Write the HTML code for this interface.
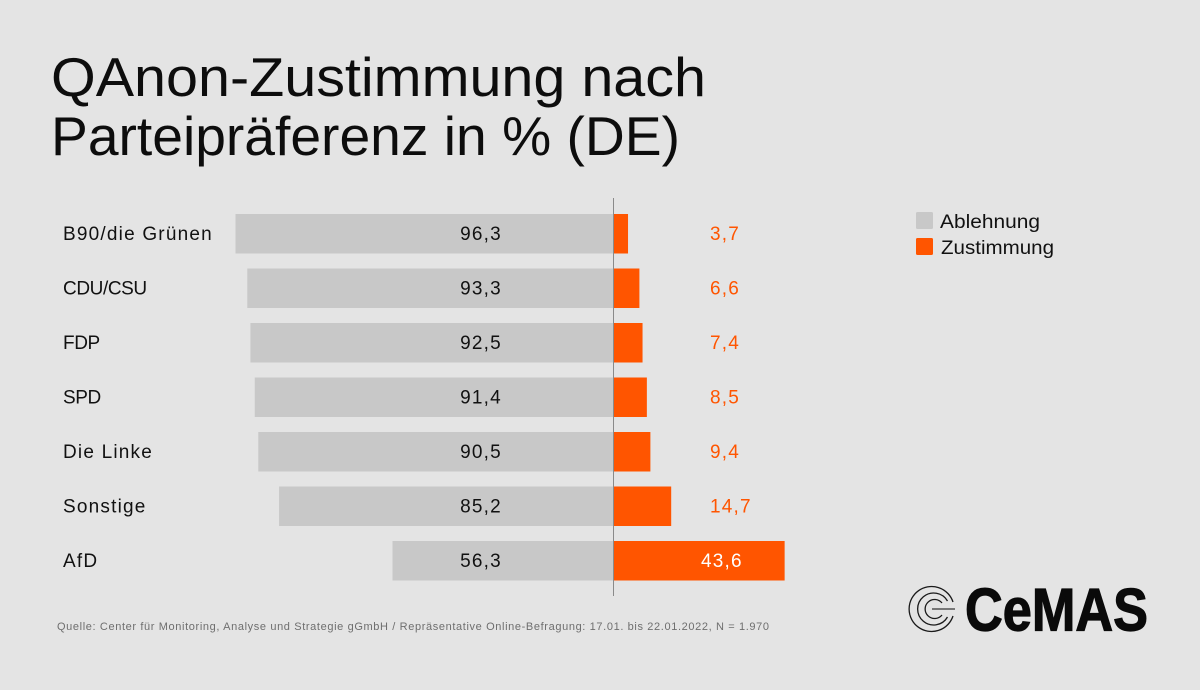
<!DOCTYPE html>
<html lang="de">
<head>
<meta charset="utf-8">
<title>QAnon-Zustimmung nach Parteipräferenz</title>
<style>
html,body{margin:0;padding:0;background:#e4e4e4;width:1200px;height:690px;overflow:hidden}
svg{display:block}
text{font-family:"Liberation Sans",sans-serif}
</style>
</head>
<body>
<svg id="chart" width="1200" height="690" viewBox="0 0 1200 690" xmlns="http://www.w3.org/2000/svg">
  <rect width="1200" height="690" fill="#e4e4e4"/>
  <g>
    <text x="51" y="96" font-size="55" fill="#0d0d0d" textLength="655" lengthAdjust="spacingAndGlyphs">QAnon-Zustimmung nach</text>
    <text x="51" y="155" font-size="55" fill="#0d0d0d" textLength="629" lengthAdjust="spacingAndGlyphs">Parteipräferenz in % (DE)</text>
  </g>
  <g id="bars"></g>
  <line id="axis" y1="198" y2="596" stroke="#8a8a8a" stroke-width="1"/>
  <g>
    <g>
      <rect x="916" y="212" width="17" height="17" rx="1.5" fill="#c8c8c8"/>
      <text x="940" y="228" font-size="19" fill="#111" textLength="100" lengthAdjust="spacingAndGlyphs">Ablehnung</text>
    </g>
    <g>
      <rect x="916" y="238" width="17" height="17" rx="1.5" fill="#ff5500"/>
      <text x="941" y="254" font-size="19" fill="#111" textLength="113" lengthAdjust="spacingAndGlyphs">Zustimmung</text>
    </g>
  </g>
  <text x="57" y="630" font-size="11" fill="#6e6e6e" textLength="712" lengthAdjust="spacing">Quelle: Center für Monitoring, Analyse und Strategie gGmbH / Repräsentative Online-Befragung: 17.01. bis 22.01.2022, N = 1.970</text>
  <g>
    <g fill="none" stroke="#1a1a1a" stroke-width="1.3">
      <path d="M953 602 A22.5 22.5 0 1 0 953 616"/>
      <path d="M947.5 601 A16 16 0 1 0 947.5 617"/>
      <path d="M942 603 A9.5 9.5 0 1 0 942 615"/>
      <path d="M932 609 H955" stroke="#777" stroke-width="2"/>
    </g>
    <text x="965" y="630.5" font-size="60" font-weight="700" fill="#0a0a0a" stroke="#0a0a0a" stroke-width="1.2" textLength="183" lengthAdjust="spacingAndGlyphs">CeMAS</text>
  </g>
</svg>
<script>
const parties = ["B90/die Grünen", "CDU/CSU", "FDP", "SPD", "Die Linke", "Sonstige", "AfD"];
const ablehnung = [96.3, 93.3, 92.5, 91.4, 90.5, 85.2, 56.3];
const zustimmung = [3.7, 6.6, 7.4, 8.5, 9.4, 14.7, 43.6];

const SVG_NS = "http://www.w3.org/2000/svg";
const ZERO_X = 613.5;
const PX_PER_UNIT = 3.925;
const ROW_TOP = 214;
const ROW_STEP = 54.5;
const BAR_H = 39.5;
const xScale = function (v) { return ZERO_X + v * PX_PER_UNIT; };
const yScale = function (i) { return ROW_TOP + i * ROW_STEP; };
const fmt = function (v) { return v.toFixed(1).replace(".", ","); };
const barsGroup = document.getElementById("bars");

function addRect(parent, x, y, w, h, fill) {
  const r = document.createElementNS(SVG_NS, "rect");
  r.setAttribute("x", x);
  r.setAttribute("y", y);
  r.setAttribute("width", w);
  r.setAttribute("height", h);
  r.setAttribute("fill", fill);
  parent.appendChild(r);
  return r;
}
function addText(parent, x, y, str, fill, anchor) {
  const t = document.createElementNS(SVG_NS, "text");
  t.setAttribute("x", x);
  t.setAttribute("y", y);
  t.setAttribute("font-size", "19");
  t.setAttribute("letter-spacing", "1.2");
  t.setAttribute("fill", fill);
  t.setAttribute("text-anchor", anchor);
  t.textContent = str;
  parent.appendChild(t);
  return t;
}

parties.forEach(function (party, i) {
  const y = yScale(i);
  const textY = y + 26;

  const row = document.createElementNS(SVG_NS, "g");
  
  
  barsGroup.appendChild(row);

  const label = addText(row, 63, textY, party, "#111", "start");
  
  
  if (party === party.toUpperCase()) {
    label.setAttribute("letter-spacing", "-0.4");
  }

  const left = xScale(-ablehnung[i]);
  const greyBar = addRect(row, left, y, ZERO_X - left, BAR_H, "#c8c8c8");
  
  

  const right = xScale(zustimmung[i]);
  const orangeBar = addRect(row, ZERO_X, y, right - ZERO_X, BAR_H, "#ff5500");
  
  

  const greyValue = addText(row, 481, textY, fmt(ablehnung[i]), "#111", "middle");
  
  

  const inside = right > 710;
  const orangeValue = addText(row, inside ? 701 : 710, textY, fmt(zustimmung[i]), inside ? "#ffffff" : "#ff5500", "start");
  
  
});

const axis = document.getElementById("axis");
axis.setAttribute("x1", xScale(0));
axis.setAttribute("x2", xScale(0));
</script>
</body>
</html>
